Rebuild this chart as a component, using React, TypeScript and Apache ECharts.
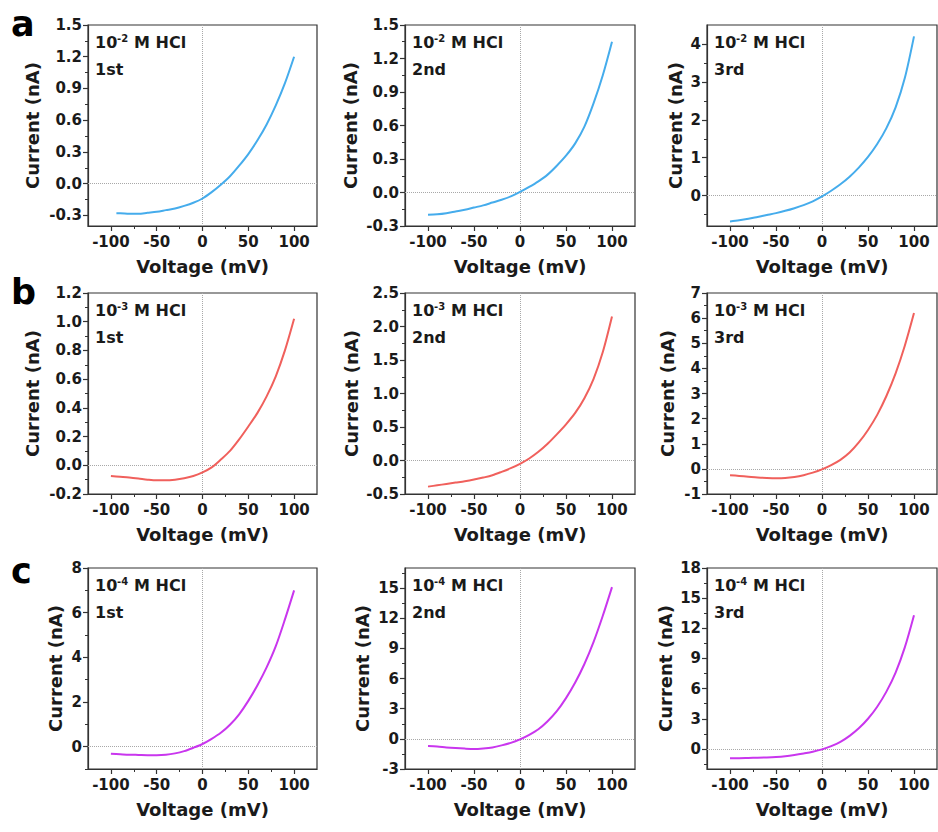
import React, { useEffect, useRef } from 'react';
import * as echarts from 'echarts';

// ---------- data ----------
const voltage = [-100, -90, -80, -70, -60, -50, -40, -30, -20, -10, 0, 10, 20, 30, 40, 50, 60, 70, 80, 90, 100];
const voltageA1 = [-94, -90, -80, -70, -60, -50, -40, -30, -20, -10, 0, 10, 20, 30, 40, 50, 60, 70, 80, 90, 100];

const currentA1 = [-0.28, -0.28, -0.285, -0.285, -0.275, -0.265, -0.25, -0.235, -0.21, -0.18, -0.14, -0.08, -0.01, 0.07, 0.17, 0.28, 0.41, 0.56, 0.74, 0.95, 1.2];
const currentA2 = [-0.2, -0.195, -0.185, -0.17, -0.155, -0.135, -0.115, -0.09, -0.065, -0.035, 0.005, 0.05, 0.1, 0.16, 0.24, 0.33, 0.44, 0.59, 0.8, 1.05, 1.35];
const currentA3 = [-0.68, -0.65, -0.61, -0.56, -0.51, -0.46, -0.4, -0.33, -0.25, -0.15, -0.02, 0.13, 0.3, 0.5, 0.74, 1.02, 1.36, 1.78, 2.33, 3.1, 4.2];
const currentB1 = [-0.075, -0.08, -0.085, -0.092, -0.1, -0.105, -0.105, -0.1, -0.09, -0.075, -0.05, -0.015, 0.04, 0.1, 0.18, 0.27, 0.365, 0.48, 0.62, 0.8, 1.02];
const currentB2 = [-0.39, -0.37, -0.35, -0.33, -0.31, -0.285, -0.255, -0.22, -0.17, -0.115, -0.05, 0.03, 0.13, 0.25, 0.39, 0.54, 0.71, 0.93, 1.22, 1.62, 2.15];
const currentB3 = [-0.25, -0.28, -0.31, -0.34, -0.36, -0.37, -0.36, -0.32, -0.25, -0.15, -0.02, 0.15, 0.36, 0.65, 1.05, 1.55, 2.15, 2.9, 3.8, 4.9, 6.2];
const currentC1 = [-0.32, -0.34, -0.36, -0.37, -0.38, -0.38, -0.36, -0.3, -0.2, -0.05, 0.12, 0.35, 0.62, 0.98, 1.45, 2.05, 2.75, 3.55, 4.5, 5.7, 7.0];
const currentC2 = [-0.7, -0.75, -0.85, -0.92, -0.97, -1.0, -0.95, -0.85, -0.65, -0.4, -0.05, 0.4, 0.95, 1.75, 2.75, 4.05, 5.6, 7.45, 9.65, 12.25, 15.1];
const currentC3 = [-0.92, -0.92, -0.9, -0.88, -0.85, -0.8, -0.72, -0.6, -0.45, -0.28, -0.05, 0.28, 0.7, 1.3, 2.05, 3.0, 4.2, 5.7, 7.6, 10.1, 13.3];

const panelVoltages = [voltageA1, voltage, voltage, voltage, voltage, voltage, voltage, voltage, voltage];
const panelCurrents = [currentA1, currentA2, currentA3, currentB1, currentB2, currentB3, currentC1, currentC2, currentC3];

const concentrationExponents = ['-2', '-3', '-4'];
const runLabels = ['1st', '2nd', '3rd'];
const panelLetters = ['a', 'b', 'c'];

const xTickLabels = [-100, -50, 0, 50, 100];
const xMinorTicks = [-75, -25, 25, 75];

const yMins = [-0.4, -0.3, -0.8, -0.2, -0.5, -1, -1, -3, -2];
const yMaxs = [1.5, 1.5, 4.5, 1.2, 2.5, 7, 8, 17, 18];
const yTickLabels = [
  [-0.3, 0, 0.3, 0.6, 0.9, 1.2, 1.5],
  [-0.3, 0, 0.3, 0.6, 0.9, 1.2, 1.5],
  [0, 1, 2, 3, 4],
  [-0.2, 0, 0.2, 0.4, 0.6, 0.8, 1.0, 1.2],
  [-0.5, 0, 0.5, 1.0, 1.5, 2.0, 2.5],
  [-1, 0, 1, 2, 3, 4, 5, 6, 7],
  [0, 2, 4, 6, 8],
  [-3, 0, 3, 6, 9, 12, 15],
  [0, 3, 6, 9, 12, 15, 18],
];
const yMinorTicks = [
  [-0.15, 0.15, 0.45, 0.75, 1.05, 1.35],
  [-0.15, 0.15, 0.45, 0.75, 1.05, 1.35],
  [-0.5, 0.5, 1.5, 2.5, 3.5],
  [-0.1, 0.1, 0.3, 0.5, 0.7, 0.9, 1.1],
  [-0.25, 0.25, 0.75, 1.25, 1.75, 2.25],
  [-0.5, 0.5, 1.5, 2.5, 3.5, 4.5, 5.5, 6.5],
  [-1, 1, 3, 5, 7],
  [-1.5, 1.5, 4.5, 7.5, 10.5, 13.5, 16.5],
  [-1.5, 1.5, 4.5, 7.5, 10.5, 13.5, 16.5],
];
const yDecimals = [1, 1, 0, 1, 1, 0, 0, 0, 0];

// ---------- layout / style ----------
const colLeft = [88, 405, 707];
const colWidth = [229, 230, 230];
const rowTop = [25, 293, 568];
const rowHeight = 201;
const yNameGaps = [47, 46, 23, 47, 45, 31, 24, 34, 33];
const rowColors = ['#45acec', '#f0605c', '#c936ee'];
const letterY = [24, 292, 571];
const FONT = "'DejaVu Sans', 'Liberation Sans', Arial, sans-serif";
const INK = '#1a1a1a';
const AXIS = '#333';

function buildOption() {
  const grid: any[] = [];
  const xAxis: any[] = [];
  const yAxis: any[] = [];
  const series: any[] = [];
  const graphic: any[] = [];

  for (let i = 0; i < 9; i++) {
    const r = Math.floor(i / 3);
    const c = i % 3;
    const left = colLeft[c];
    const top = rowTop[r];
    grid.push({
      left, top, width: colWidth[c], height: rowHeight,
      show: true, borderColor: AXIS, borderWidth: 1.2, backgroundColor: 'transparent',
      containLabel: false,
    });
    xAxis.push({
      type: 'value', gridIndex: i, min: -125, max: 125, position: 'bottom',
      name: 'Voltage (mV)', nameLocation: 'middle', nameGap: 31,
      nameTextStyle: { fontSize: 18, fontWeight: 'bold', fontFamily: FONT, color: INK },
      axisLine: { show: true, onZero: false, lineStyle: { color: AXIS, width: 1.2 } },
      axisTick: { show: true, customValues: xTickLabels, length: 5, lineStyle: { color: AXIS, width: 1.2 } },
      axisLabel: { show: true, customValues: xTickLabels, margin: 8, fontSize: 15, fontWeight: 'bold', fontFamily: FONT, color: INK },
      splitLine: { show: false },
    });
    xAxis.push({
      type: 'value', gridIndex: i, min: -125, max: 125, position: 'bottom',
      axisLine: { show: false, onZero: false },
      axisTick: { show: true, customValues: xMinorTicks, length: 3, lineStyle: { color: AXIS, width: 1 } },
      axisLabel: { show: false },
      splitLine: { show: false },
    });
    const dec = yDecimals[i];
    yAxis.push({
      type: 'value', gridIndex: i, min: yMins[i], max: yMaxs[i], position: 'left',
      name: 'Current (nA)', nameLocation: 'middle', nameGap: yNameGaps[i],
      nameTextStyle: { fontSize: 18, fontWeight: 'bold', fontFamily: FONT, color: INK },
      axisLine: { show: true, onZero: false, lineStyle: { color: AXIS, width: 1.2 } },
      axisTick: { show: true, customValues: yTickLabels[i], length: 5, lineStyle: { color: AXIS, width: 1.2 } },
      axisLabel: {
        show: true, customValues: yTickLabels[i], margin: 6, fontSize: 15, fontWeight: 'bold', fontFamily: FONT, color: INK,
        formatter: (v: number) => v.toFixed(dec),
      },
      splitLine: { show: false },
    });
    yAxis.push({
      type: 'value', gridIndex: i, min: yMins[i], max: yMaxs[i], position: 'left',
      axisLine: { show: false, onZero: false },
      axisTick: { show: true, customValues: yMinorTicks[i], length: 3, lineStyle: { color: AXIS, width: 1 } },
      axisLabel: { show: false },
      splitLine: { show: false },
    });

    const xs = panelVoltages[i];
    const ys = panelCurrents[i];
    series.push({
      type: 'line',
      xAxisIndex: i * 2,
      yAxisIndex: i * 2,
      data: xs.map((x, k) => [x, ys[k]]),
      showSymbol: false,
      smooth: 0.3,
      lineStyle: { color: rowColors[r], width: 2 },
      itemStyle: { color: rowColors[r] },
      z: 3,
      markLine: {
        silent: true,
        symbol: ['none', 'none'],
        label: { show: false },
        lineStyle: { type: 'dotted', color: '#a8a8a8', width: 1 },
        data: [{ xAxis: 0 }, { yAxis: 0 }],
        z: 1,
      },
    });

    const txt = (text: string, x: number, y: number, size: number) => ({
      type: 'text', x, y, z: 10,
      style: {
        text, fontSize: size, fontWeight: 'bold', fontFamily: FONT, fill: INK,
        align: 'left', verticalAlign: 'middle', textAlign: 'left', textVerticalAlign: 'middle',
      },
    });
    graphic.push(txt('10', left + 7, top + 17, 16));
    graphic.push(txt(concentrationExponents[r], left + 29, top + 13, 10));
    graphic.push(txt('M HCl', left + 46, top + 17, 16));
    graphic.push(txt(runLabels[c], left + 7, top + 44, 16));
  }

  for (let r = 0; r < 3; r++) {
    graphic.push({
      type: 'text', x: 11, y: letterY[r], z: 10,
      style: {
        text: panelLetters[r], fontSize: 35, fontWeight: 'bold', fontFamily: FONT, fill: '#000',
        align: 'left', verticalAlign: 'middle', textAlign: 'left', textVerticalAlign: 'middle',
      },
    });
  }

  return { animation: false, backgroundColor: '#fff', grid, xAxis, yAxis, series, graphic };
}

export default function App() {
  const ref = useRef<HTMLDivElement>(null);
  useEffect(() => {
    if (!ref.current) return;
    const chart = echarts.init(ref.current, undefined, { renderer: 'svg' });
    chart.setOption(buildOption() as any);
    return () => chart.dispose();
  }, []);
  return (
    <div
      ref={ref}
      style={{ position: 'absolute', left: 0, top: 0, width: 938, height: 832, background: '#fff' }}
    />
  );
}
